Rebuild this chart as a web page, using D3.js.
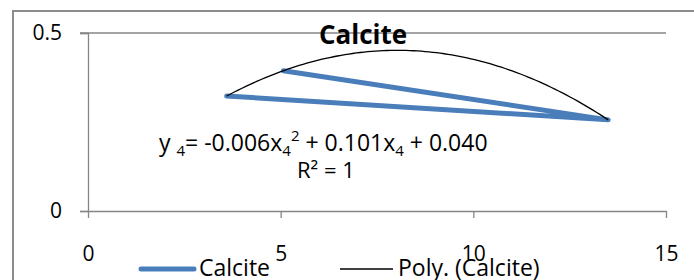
<!DOCTYPE html>
<html>
<head>
<meta charset="utf-8">
<script src="https://cdn.jsdelivr.net/npm/d3@7"></script>
<style>
  body { margin: 0; background: #fff; }
  svg { display: block; font-family: "Open Sans", sans-serif; }
</style>
</head>
<body>
<div id="chart"></div>
<script>
// data (series in plotting order)
var seriesName = "Calcite";
var xValues = [3.6, 13.5, 5.07];
var yValues = [0.323, 0.256, 0.394];
var xTicks = [0, 5, 10, 15];
var yTicks = [0, 0.5];
var equationText = ["y ", "4", "= -0.006x", "4", "2", " + 0.101x", "4", " + 0.040"];

var width = 694, height = 280;
var margin = { left: 88, top: 33, right: 28, bottom: 69 };

var svg = d3.select("#chart").append("svg")
    .attr("width", width)
    .attr("height", height);

// outer chart border (clipped at right and bottom like the original)
svg.append("rect")
    .attr("x", 13).attr("y", 11)
    .attr("width", 700).attr("height", 300)
    .attr("fill", "none")
    .attr("stroke", "#8c8c8c")
    .attr("stroke-width", 2);

var x = d3.scaleLinear().domain([0, 15]).range([margin.left, width - margin.right]);
var y = d3.scaleLinear().domain([0, 0.5]).range([height - margin.bottom, margin.top]);

// gridlines
svg.append("g")
    .selectAll("line")
    .data(yTicks.filter(d => d > 0))
    .enter().append("line")
    .attr("x1", x(0) - 8).attr("x2", x(15))
    .attr("y1", d => y(d)).attr("y2", d => y(d))
    .attr("stroke", "#868686").attr("stroke-width", 1.3);

// y axis
var gy = svg.append("g")
    .attr("transform", "translate(" + x(0) + ",0)")
    .call(d3.axisLeft(y).tickValues(yTicks).tickSize(8).tickPadding(18)
        .tickFormat(d => d === 0 ? "0" : d3.format(".1f")(d)));
gy.select(".domain").attr("stroke", "#868686").attr("stroke-width", 1.3);
gy.selectAll(".tick line").attr("stroke", "#868686").attr("stroke-width", 1.3);
gy.selectAll("text").attr("font-size", 21).attr("fill", "#000")
    .attr("font-family", "Open Sans, sans-serif");

// x axis
var gx = svg.append("g")
    .attr("transform", "translate(0," + y(0) + ")")
    .call(d3.axisBottom(x).tickValues(xTicks).tickSize(7).tickPadding(28).tickSizeOuter(0));
gx.select(".domain").attr("stroke", "#868686").attr("stroke-width", 1.3);
gx.selectAll(".tick line").attr("stroke", "#868686").attr("stroke-width", 1.3);
gx.selectAll("text").attr("font-size", 21).attr("fill", "#000")
    .attr("font-family", "Open Sans, sans-serif");

// data series
var pts = xValues.map((d, i) => [d, yValues[i]]);
svg.append("path")
    .datum(pts)
    .attr("fill", "none")
    .attr("stroke", "#4a7ebb")
    .attr("stroke-width", 5)
    .attr("stroke-linecap", "round")
    .attr("stroke-linejoin", "round")
    .attr("d", d3.line().x(d => x(d[0])).y(d => y(d[1])));

// polynomial (order 2) trendline fitted to the data
function quadFit(xs, ys) {
    var n = xs.length, s = [0, 0, 0, 0, 0], t = [0, 0, 0];
    for (var i = 0; i < n; i++) {
        for (var k = 0; k < 5; k++) s[k] += Math.pow(xs[i], k);
        for (var k = 0; k < 3; k++) t[k] += ys[i] * Math.pow(xs[i], k);
    }
    var M = [[s[0], s[1], s[2], t[0]], [s[1], s[2], s[3], t[1]], [s[2], s[3], s[4], t[2]]];
    for (var c = 0; c < 3; c++) {
        for (var r = c + 1; r < 3; r++) {
            var f = M[r][c] / M[c][c];
            for (var k = c; k < 4; k++) M[r][k] -= f * M[c][k];
        }
    }
    var co = [0, 0, 0];
    for (var r = 2; r >= 0; r--) {
        var v = M[r][3];
        for (var k = r + 1; k < 3; k++) v -= M[r][k] * co[k];
        co[r] = v / M[r][r];
    }
    return co; // c0 + c1 x + c2 x^2
}
var co = quadFit(xValues, yValues);
var xr = d3.extent(xValues);
var curve = d3.range(0, 101).map(i => {
    var xv = xr[0] + (xr[1] - xr[0]) * i / 100;
    return [xv, co[0] + co[1] * xv + co[2] * xv * xv];
});
svg.append("path")
    .datum(curve)
    .attr("fill", "none")
    .attr("stroke", "#000")
    .attr("stroke-width", 1.3)
    .attr("d", d3.line().x(d => x(d[0])).y(d => y(d[1])));

// title
svg.append("text")
    .attr("x", 363).attr("y", 44)
    .attr("text-anchor", "middle")
    .attr("font-size", 26)
    .attr("font-weight", "bold")
    .text(seriesName);

// trendline equation
var eq = svg.append("text")
    .attr("x", 159).attr("y", 151)
    .attr("font-size", 23);
equationText.forEach((s, i) => {
    var ts = eq.append("tspan").text(s);
    if (i === 1 || i === 3 || i === 6) ts.attr("font-size", 15).attr("dy", 5);
    if (i === 4) ts.attr("font-size", 15).attr("dy", -15);
    if (i === 2 || i === 7) ts.attr("dy", -5);
    if (i === 5) ts.attr("dy", 10);
});
svg.append("text")
    .attr("x", 297).attr("y", 178)
    .attr("font-size", 22)
    .text("R² = 1");

// legend
var legend = svg.append("g");
legend.append("line")
    .attr("x1", 141).attr("x2", 194).attr("y1", 269).attr("y2", 269)
    .attr("stroke", "#4a7ebb").attr("stroke-width", 5).attr("stroke-linecap", "round");
legend.append("text").attr("x", 199).attr("y", 276).attr("font-size", 23).text(seriesName);
legend.append("line")
    .attr("x1", 340).attr("x2", 393).attr("y1", 269).attr("y2", 269)
    .attr("stroke", "#000").attr("stroke-width", 1.3);
legend.append("text").attr("x", 398).attr("y", 276).attr("font-size", 23).text("Poly. (" + seriesName + ")");
</script>
</body>
</html>
